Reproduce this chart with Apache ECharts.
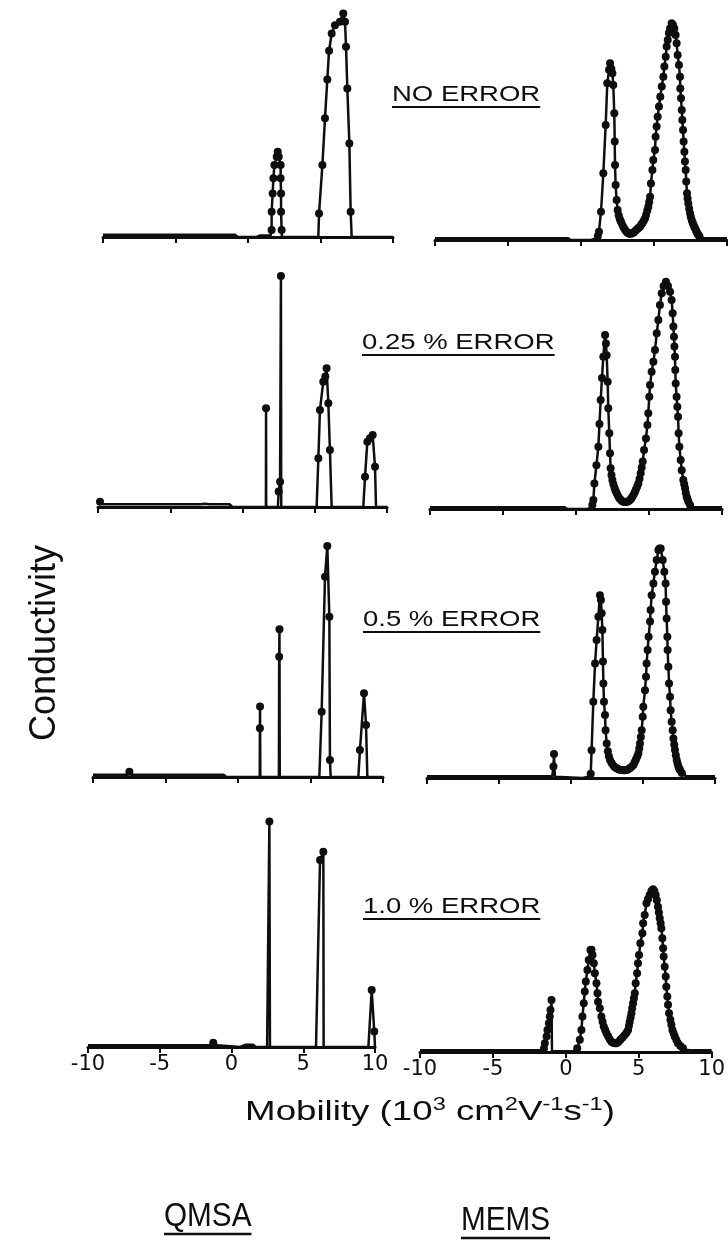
<!DOCTYPE html>
<html><head><meta charset="utf-8">
<script src="https://cdn.jsdelivr.net/npm/echarts/dist/echarts.min.js"></script>
<style>html,body{margin:0;padding:0;background:#fff}#c{width:728px;height:1240px}</style>
</head><body><div id="c"></div><script>
// ---------- data (x = mobility, 10^3 cm2/Vs ; y = conductivity, arbitrary units 0-100) ----------
const xTicks = [-10, -5, 0, 5, 10];
const panelLabels = ['NO ERROR', '0.25 % ERROR', '0.5 % ERROR', '1.0 % ERROR'];
const xAxisTitle = 'Mobility';
const methodNames = ['QMSA', 'MEMS'];
const yAxisTitle = 'Conductivity';

const qmsaNoError = [[-10,1],[-0.9,1],[-0.7,0],[0.6,0],[0.8,0.6],[1.55,0.6],[1.6,0],[1.63,3.0],[1.63,11.0],[1.70,18.9],[1.75,25.5],[1.82,31.3],[1.98,34.9],[2.05,37.1],[2.12,34.9],[2.25,31.3],[2.25,25.5],[2.28,18.9],[2.28,11.0],[2.32,3.0],[2.34,0],[4.85,0],[4.90,10.2],[5.13,31.3],[5.31,51.6],[5.47,68.5],[5.59,81.0],[5.77,88.5],[6.00,92.1],[6.34,93.6],[6.57,97.2],[6.69,93.6],[6.76,82.7],[6.85,64.6],[6.99,40.7],[7.08,11.0],[7.15,0],[10,0]];
const qmsaErr025 = [[-10,1.2],[-9.86,2.3],[-9.7,1.2],[-2.9,1.2],[-2.6,1.4],[-2.3,1.2],[-0.9,1.2],[-0.7,0],[1.62,0],[1.63,42.9],[1.64,0],[2.45,0],[2.50,6.7],[2.60,11.0],[2.66,100.4],[2.68,0],[5.13,0],[5.25,21.2],[5.36,42.2],[5.59,54.5],[5.73,56.7],[5.82,60.3],[5.94,45.1],[6.05,24.8],[6.17,0],[8.36,0],[8.48,13.2],[8.64,28.4],[8.82,29.9],[9.01,31.3],[9.17,17.5],[9.24,0],[10,0]];
const qmsaErr05 = [[-10,1],[-7.6,1],[-7.49,2.3],[-7.4,1],[-1.0,1],[-0.8,0],[1.50,0],[1.51,21.2],[1.52,30.6],[1.54,0],[2.82,0],[2.84,52.3],[2.86,64.2],[2.88,0],[5.61,0],[5.77,28.4],[6.00,87.1],[6.16,100.4],[6.30,69.7],[6.34,7.4],[6.39,0],[8.30,0],[8.41,11.7],[8.69,36.4],[8.83,22.6],[8.92,0],[10,0]];
const qmsaErr10 = [[-10,0.8],[-1.5,0.8],[-1.27,1.9],[-1.0,0.8],[0.6,0],[1.0,1],[1.5,1],[1.7,0],[2.48,0],[2.64,98.0],[2.68,0],[5.89,0],[6.17,81.3],[6.40,84.9],[6.42,0],[9.54,0],[9.77,24.8],[9.95,6.7],[10,0]];

const memsNoError = [[-10,0.8],[-0.9,0.8],[-0.7,0],[0.7,0],[1.05,0.8],[1.15,1.7],[1.23,3.6],[1.37,12.3],[1.53,29.0],[1.69,50.0],[1.80,68.1],[1.92,74],[1.99,76.8],[2.08,74.5],[2.15,72.5],[2.21,67.4],[2.28,55.1],[2.31,42.8],[2.33,32.6],[2.37,23.9],[2.44,17.4],[2.51,13.0],[2.58,10.8],[2.65,9.2],[2.72,8.1],[2.79,7.2],[2.88,5.9],[2.97,4.9],[3.06,4.0],[3.15,3.4],[3.24,2.9],[3.33,2.7],[3.42,2.7],[3.50,2.9],[3.58,3.2],[3.67,3.6],[3.76,4.2],[3.86,4.8],[3.95,5.3],[4.04,5.8],[4.12,6.6],[4.21,7.4],[4.30,8.4],[4.38,9.4],[4.46,11.0],[4.54,12.8],[4.61,14.5],[4.67,16.5],[4.73,18.8],[4.79,24.6],[4.89,30.4],[4.95,34.8],[5.07,39.1],[5.11,44.9],[5.18,49.3],[5.25,53.6],[5.34,58.0],[5.43,62.3],[5.53,66.7],[5.64,71.0],[5.71,75.4],[5.80,79.7],[5.87,84.1],[5.94,87.0],[6.02,90.0],[6.10,92.0],[6.21,94.2],[6.30,93.5],[6.39,92.0],[6.48,89.1],[6.55,85.5],[6.62,80.4],[6.71,76.1],[6.78,71.0],[6.80,65.9],[6.85,61.6],[6.90,56.5],[6.94,52.2],[6.99,47.8],[7.03,42.8],[7.08,38.4],[7.12,34.1],[7.17,30.4],[7.21,25.4],[7.26,20.3],[7.30,18],[7.35,15.9],[7.41,13.6],[7.47,11.6],[7.52,10.1],[7.58,8.7],[7.64,7.6],[7.70,6.6],[7.76,5.8],[7.81,5.1],[7.87,4.2],[7.93,3.4],[7.98,2.8],[8.04,2.2],[8.12,1.5],[8.2,1.0],[8.38,0.8],[10,0.8]];
const memsErr025 = [[-10,0.8],[-0.8,0.8],[-0.6,0],[0.8,0],[1.0,0.8],[1.12,1.8],[1.19,3.9],[1.26,11.1],[1.40,19],[1.53,27.1],[1.61,37],[1.69,47.4],[1.78,57],[1.87,66.2],[1.99,75.6],[2.05,72],[2.10,66.9],[2.17,55.3],[2.21,43.8],[2.28,32.9],[2.33,24.2],[2.37,17.7],[2.43,14.8],[2.49,12.6],[2.56,10.8],[2.64,9.1],[2.71,7.9],[2.79,6.8],[2.88,5.6],[2.97,4.7],[3.06,4.0],[3.15,3.5],[3.24,3.2],[3.33,3.0],[3.42,3.0],[3.52,3.2],[3.61,3.5],[3.70,3.9],[3.79,4.6],[3.87,5.4],[3.96,6.4],[4.04,7.5],[4.11,8.6],[4.19,9.8],[4.27,11.1],[4.35,13.2],[4.43,15.5],[4.50,18.0],[4.57,20.6],[4.66,25.6],[4.79,30.7],[4.89,36.5],[4.95,41.6],[5.02,48.8],[5.07,53.9],[5.18,59.7],[5.30,64.0],[5.41,69.1],[5.53,76.4],[5.64,82.2],[5.75,88.7],[5.87,93.8],[6.0,97],[6.16,98.8],[6.30,97],[6.44,94.5],[6.55,90.9],[6.62,85.1],[6.67,79.3],[6.71,74.9],[6.74,70.6],[6.78,66.2],[6.80,60.4],[6.83,54.6],[6.89,48.8],[6.94,44.5],[6.99,40.1],[7.03,32.9],[7.08,27.1],[7.17,21.3],[7.24,16.9],[7.35,12.6],[7.41,10.8],[7.47,9.0],[7.52,7.1],[7.58,5.3],[7.64,4.2],[7.70,3.2],[7.81,1.7],[7.95,1.0],[8.15,0.8],[10,0.8]];
const memsErr05 = [[-10,0.8],[-1.3,0.8],[-1.22,5],[-1.18,10.4],[-1.12,0.5],[0.8,0],[1.2,0.5],[1.37,1.8],[1.43,12.1],[1.55,33.2],[1.67,49.8],[1.78,60.0],[1.90,70.1],[2.01,79.5],[2.08,77.4],[2.13,71.6],[2.18,64.3],[2.22,50.6],[2.25,41.1],[2.29,33.2],[2.36,27.4],[2.40,20.8],[2.48,15.0],[2.56,11.6],[2.63,9.5],[2.71,7.8],[2.82,6.5],[2.94,5.4],[3.05,4.7],[3.17,4.2],[3.29,3.8],[3.40,3.6],[3.52,3.5],[3.64,3.4],[3.75,3.4],[3.87,3.5],[3.98,3.8],[4.10,4.3],[4.21,4.9],[4.33,5.6],[4.42,6.8],[4.51,8.0],[4.60,9.3],[4.68,10.7],[4.74,12.8],[4.79,15.0],[4.85,17.8],[4.91,20.8],[4.98,26.6],[5.02,31.0],[5.14,38.2],[5.21,44.0],[5.25,49.8],[5.32,55.6],[5.39,61.4],[5.49,68.0],[5.53,73.0],[5.60,79.5],[5.72,84.6],[5.83,89.7],[5.95,94.8],[6.07,99.1],[6.15,99.8],[6.23,99.8],[6.37,94.8],[6.48,89.7],[6.57,84.6],[6.60,76.6],[6.64,69.4],[6.69,61.4],[6.71,55.6],[6.76,48.4],[6.81,41.1],[6.88,35.3],[6.92,29.5],[6.99,24.5],[7.06,20.8],[7.11,17.2],[7.17,14.6],[7.22,12.2],[7.28,9.9],[7.34,7.8],[7.40,6.3],[7.46,5.0],[7.52,4.0],[7.57,3.5],[7.70,2.2],[7.85,1.3],[8.03,0.8],[10,0.8]];
const memsErr10 = [[-10,0.8],[-1.55,0.8],[-1.5,1.5],[-1.44,3.8],[-1.32,6.7],[-1.26,9.6],[-1.16,12.5],[-1.10,15.4],[-1.05,18.3],[-0.98,22.6],[-0.95,0.3],[0.6,0.3],[0.78,1.6],[0.96,5.3],[1.07,9.6],[1.14,15.4],[1.23,21.2],[1.30,26.3],[1.37,30.6],[1.48,35.7],[1.57,40.0],[1.69,44.4],[1.76,44.5],[1.83,42.2],[1.92,38.6],[1.99,34.2],[2.10,29.9],[2.17,25.5],[2.21,21.9],[2.33,19.0],[2.44,15.4],[2.52,13.2],[2.60,11.1],[2.70,9.6],[2.79,8.2],[2.90,6.8],[3.01,5.5],[3.13,4.5],[3.24,4.0],[3.36,3.8],[3.47,3.8],[3.60,4.4],[3.74,5.3],[3.89,6.3],[4.04,7.4],[4.16,8.4],[4.27,9.6],[4.33,11.4],[4.38,13.2],[4.44,15.0],[4.50,16.8],[4.55,19.0],[4.61,21.2],[4.67,23.4],[4.73,25.5],[4.79,29.9],[4.89,34.2],[4.95,38.6],[5.02,42.2],[5.11,47.3],[5.25,51.6],[5.30,56.0],[5.41,59.6],[5.53,64.7],[5.64,66.5],[5.75,68.3],[5.87,70],[5.98,70.8],[6.07,70],[6.16,68.3],[6.24,66],[6.32,63.2],[6.38,60.7],[6.44,58.1],[6.50,56],[6.55,53.8],[6.62,49.5],[6.67,45.1],[6.71,41.5],[6.78,37.1],[6.85,32.8],[6.89,28.4],[6.96,24.1],[7.01,20.5],[7.08,16.8],[7.17,14.0],[7.24,11.8],[7.31,9.6],[7.39,8.1],[7.47,6.7],[7.58,5.2],[7.69,3.8],[7.86,2.6],[8.04,1.6],[8.25,1.0],[8.49,0.8],[10,0.8]];

// ---------- layout (pixels) ----------
const panelLayout = [
  {left:103, width:290, axisY:237}, {left:435, width:292, axisY:240},
  {left:98,  width:289, axisY:507}, {left:430, width:292, axisY:509},
  {left:93,  width:290, axisY:777}, {left:427, width:288, axisY:778},
  {left:88,  width:287, axisY:1047},{left:420, width:292, axisY:1052}
];
const panelData = [qmsaNoError, memsNoError, qmsaErr025, memsErr025, qmsaErr05, memsErr05, qmsaErr10, memsErr10];
const PH = 230;
const INK = '#0e0e0e';

const grids = [], xAxes = [], yAxes = [], series = [];
panelLayout.forEach((p, i) => {
  grids.push({left:p.left, width:p.width, top:p.axisY - PH, height:PH});
  const bottom = i >= 6;
  xAxes.push({type:'value', gridIndex:i, min:xTicks[0], max:xTicks[xTicks.length-1], interval:xTicks[1]-xTicks[0],
    axisLine:{show:true, onZero:false, lineStyle:{color:INK, width:3}},
    axisTick:{show:true, length:6, lineStyle:{color:INK, width:2}},
    axisLabel:{show:bottom, fontSize:21, fontFamily:'"DejaVu Sans", Arial, sans-serif', color:INK, margin:7, formatter:v=>String(v)},
    splitLine:{show:false}});
  yAxes.push({type:'value', gridIndex:i, min:0, max:100, show:false});
  series.push({type:'line', xAxisIndex:i, yAxisIndex:i, data:panelData[i], clip:false, silent:true, animation:false,
    symbol:'circle', symbolSize:v => v[1] >= 1.5 ? 8 : 0,
    lineStyle:{color:INK, width:2.5}, itemStyle:{color:INK}});
});

// ---------- text ----------
function measure(text, font){ const c = document.createElement('canvas').getContext('2d'); c.font = font; return c.measureText(text).width; }
const SX = 1.25;
const graphic = [];
const labelFont = '22px "Liberation Sans", Arial, sans-serif';
const labelPos = [[392,103],[362,351],[363,628],[363,915]];
panelLabels.forEach((t, i) => {
  const [x, y] = labelPos[i];
  const w = measure(t, labelFont) * SX;
  graphic.push({type:'text', x:x, y:y - 0.35*22, scaleX:SX, silent:true,
    style:{text:t, font:labelFont, fill:INK, align:'left', verticalAlign:'middle'}});
  graphic.push({type:'line', silent:true, shape:{x1:x, y1:y+4, x2:x+w, y2:y+4}, style:{stroke:INK, lineWidth:2}});
});
// axis title with superscripts
graphic.push({type:'text', x:430, y:1111, scaleX:1.31, silent:true,
  style:{text:'{a|' + xAxisTitle + ' (10}{s|3}{a| cm}{s|2}{a|V}{s|-1}{a|s}{s|-1}{a|)}',
    align:'center', verticalAlign:'middle',
    rich:{a:{font:'28px "Liberation Sans", Arial, sans-serif', fill:INK, verticalAlign:'bottom'},
          s:{font:'18px "Liberation Sans", Arial, sans-serif', fill:INK, verticalAlign:'bottom', padding:[0,0,12,0]}}}});
// method names
const methodFont = '33px "Liberation Sans", Arial, sans-serif';
const methodSX = 0.9;
const methodPos = [[164,1228],[461,1232]];
methodNames.forEach((t, i) => {
  const [x, y] = methodPos[i];
  const w = measure(t, methodFont) * methodSX;
  graphic.push({type:'text', x:x, y:y - 0.35*33, scaleX:methodSX, silent:true,
    style:{text:t, font:methodFont, fill:INK, align:'left', verticalAlign:'middle'}});
  graphic.push({type:'line', silent:true, shape:{x1:x, y1:y+6, x2:x+w, y2:y+6}, style:{stroke:INK, lineWidth:2.5}});
});
graphic.push({type:'text', x:45, y:643, rotation:Math.PI/2, silent:true,
  style:{text:yAxisTitle, font:'36px "Liberation Sans", Arial, sans-serif', fill:INK, align:'center', verticalAlign:'middle'}});

const chart = echarts.init(document.getElementById('c'), null, {renderer:'canvas'});
chart.setOption({backgroundColor:'#ffffff', animation:false, grid:grids, xAxis:xAxes, yAxis:yAxes, series:series, graphic:graphic});
</script></body></html>
